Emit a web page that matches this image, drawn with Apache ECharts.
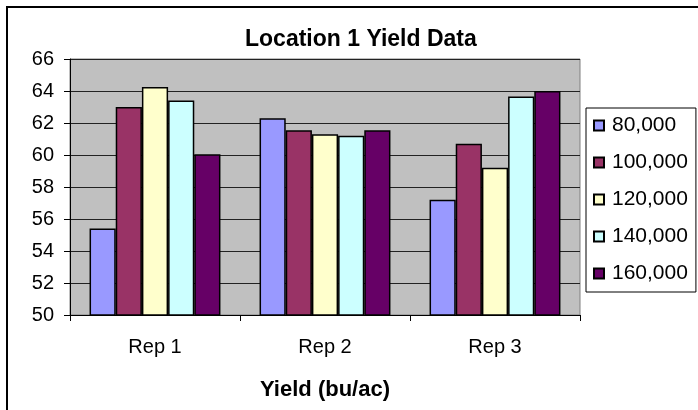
<!DOCTYPE html>
<html>
<head>
<meta charset="utf-8">
<script src="https://cdn.jsdelivr.net/npm/echarts@6/dist/echarts.min.js"></script>
<style>
html,body{margin:0;padding:0;background:#fff;}
#chart{width:698px;height:410px;}
</style>
</head>
<body>
<div id="chart"></div>
<script>
const categories = ['Rep 1', 'Rep 2', 'Rep 3'];
const seriesNames = ['80,000', '100,000', '120,000', '140,000', '160,000'];
const s80000 = [55.4, 62.3, 57.2];
const s100000 = [63.0, 61.55, 60.7];
const s120000 = [64.25, 61.3, 59.2];
const s140000 = [63.4, 61.2, 63.65];
const s160000 = [60.05, 61.55, 64.0];
const yTicks = [50, 52, 54, 56, 58, 60, 62, 64, 66];

const seriesValues = [s80000, s100000, s120000, s140000, s160000];
const colors = ['#9999FF', '#993366', '#FFFFCC', '#CCFFFF', '#660066'];

const chart = echarts.init(document.getElementById('chart'));
chart.setOption({
  animation: false,
  backgroundColor: '#fff',
  title: {
    text: 'Location 1 Yield Data',
    left: 240,
    top: 23,
    textStyle: { fontFamily: 'Liberation Sans', fontWeight: 'bold', fontSize: 23, color: '#000' }
  },
  graphic: [{
    type: 'rect',
    shape: { x: 7, y: 7, width: 740, height: 440 },
    style: { fill: 'none', stroke: '#000', lineWidth: 2 },
    silent: true
  }],
  legend: {
    orient: 'vertical',
    left: 586,
    top: 108,
    padding: [7, 8, 8, 7],
    itemGap: 16,
    itemWidth: 10,
    itemHeight: 10,
    icon: 'rect',
    backgroundColor: '#fff',
    borderColor: '#000',
    borderWidth: 1,
    borderRadius: 0,
    data: seriesNames,
    textStyle: { fontFamily: 'Liberation Sans', fontSize: 21, color: '#000', lineHeight: 21, padding: [0, 0, 0, 3] }
  },
  grid: {
    left: 70, right: 118, top: 59, bottom: 95,
    show: true,
    backgroundColor: '#C0C0C0',
    borderColor: '#808080',
    borderWidth: 1,
    containLabel: false
  },
  xAxis: {
    type: 'category',
    data: categories,
    name: 'Yield (bu/ac)',
    nameLocation: 'middle',
    nameGap: 64,
    nameTextStyle: { fontFamily: 'Liberation Sans', fontWeight: 'bold', fontSize: 22, color: '#000' },
    axisLine: { show: true, lineStyle: { color: '#000', width: 1 } },
    axisTick: { show: true, length: 6, lineStyle: { color: '#000' } },
    axisLabel: { fontFamily: 'Liberation Sans', fontSize: 20, color: '#000', margin: 22 },
    splitLine: { show: false }
  },
  yAxis: {
    type: 'value',
    min: yTicks[0],
    max: yTicks[yTicks.length - 1],
    interval: yTicks[1] - yTicks[0],
    axisLine: { show: true, lineStyle: { color: '#000', width: 1 } },
    axisTick: { show: true, length: 6, lineStyle: { color: '#000' } },
    axisLabel: { fontFamily: 'Liberation Sans', fontSize: 20, color: '#000', margin: 16 },
    splitLine: { show: true, lineStyle: { color: '#222', width: 1 } }
  },
  series: seriesNames.map((name, i) => ({
    name: name,
    type: 'bar',
    data: seriesValues[i],
    barGap: '0%',
    barCategoryGap: '23%',
    itemStyle: { color: colors[i], borderColor: '#000', borderWidth: 1.5 }
  }))
});
</script>
</body>
</html>
